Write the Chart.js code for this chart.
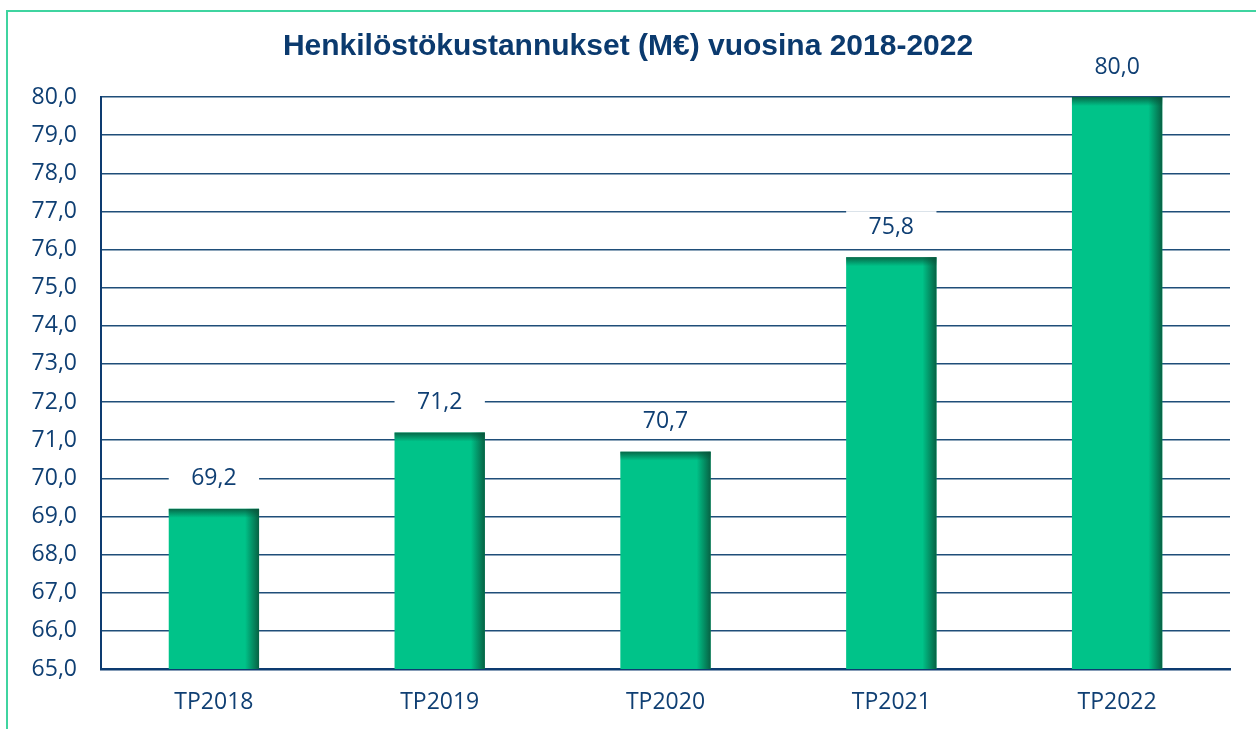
<!DOCTYPE html>
<html>
<head>
<meta charset="utf-8">
<script src="https://cdn.jsdelivr.net/npm/chart.js@4/dist/chart.umd.min.js"></script>
<style>
  html, body { margin: 0; padding: 0; background: #fff; overflow: hidden; }
  #frame { position: absolute; left: 6px; top: 10px; width: 1300px; height: 800px;
           border-left: 2px solid #3fd4a0; border-top: 2px solid #3fd4a0; }
  #costChart { position: absolute; left: 0; top: 0; }
</style>
</head>
<body>
<div id="frame"></div>
<canvas id="costChart" width="1256" height="729"></canvas>
<script>
const categories = ["TP2018", "TP2019", "TP2020", "TP2021", "TP2022"];
const values = [69.2, 71.2, 70.7, 75.8, 80.0];
const yMin = 65;
const yMax = 80;
const yStep = 1;
const titleText = "Henkilöstökustannukset (M€) vuosina 2018-2022";

const navy = "#0f3f73";
const fmt = v => v.toFixed(1).replace(".", ",");

// title drawn centred on the whole canvas
const chartTitle = {
  id: "chartTitle",
  afterDraw(chart) {
    const ctx = chart.ctx;
    ctx.save();
    ctx.font = "bold 30px 'Liberation Sans', Arial, sans-serif";
    ctx.fillStyle = "#0b3a6e";
    ctx.textAlign = "center";
    ctx.textBaseline = "middle";
    ctx.fillText(titleText, chart.width / 2, 47);
    ctx.restore();
  }
};

// dark shading on the right edge and the top of each bar
const barShade = {
  id: "barShade",
  afterDatasetDraw(chart, args) {
    const ctx = chart.ctx;
    const bottom = chart.scales.y.getPixelForValue(yMin);
    args.meta.data.forEach(el => {
      const bar = el.getProps(["x", "y", "width"], true);
      const left = bar.x - bar.width / 2;
      const right = bar.x + bar.width / 2;
      const top = bar.y;
      ctx.save();
      let g = ctx.createLinearGradient(right - 14, 0, right, 0);
      g.addColorStop(0, "rgba(8, 80, 55, 0)");
      g.addColorStop(1, "rgba(8, 80, 55, 0.85)");
      ctx.fillStyle = g;
      ctx.fillRect(right - 14, top, 14, bottom - top);
      g = ctx.createLinearGradient(0, top, 0, top + 9);
      g.addColorStop(0, "rgba(8, 80, 55, 0.8)");
      g.addColorStop(1, "rgba(8, 80, 55, 0)");
      ctx.fillStyle = g;
      ctx.fillRect(left, top, right - left, 9);
      ctx.restore();
    });
  }
};

// value labels on a white box above each bar
const valueLabels = {
  id: "valueLabels",
  afterDatasetsDraw(chart) {
    const ctx = chart.ctx;
    const meta = chart.getDatasetMeta(0);
    ctx.save();
    ctx.font = "23px 'Open Sans'";
    ctx.textAlign = "center";
    ctx.textBaseline = "middle";
    meta.data.forEach((el, i) => {
      const bar = el.getProps(["x", "y", "width"], true);
      ctx.fillStyle = "#fff";
      ctx.fillRect(bar.x - bar.width / 2, bar.y - 30 - 16, bar.width, 32);
      ctx.fillStyle = navy;
      ctx.fillText(fmt(values[i]), bar.x, bar.y - 30);
    });
    ctx.restore();
  }
};

const ctx = document.getElementById("costChart").getContext("2d");
new Chart(ctx, {
  type: "bar",
  data: {
    labels: categories,
    datasets: [{
      data: values,
      backgroundColor: "#00c389",
      borderWidth: 0,
      barPercentage: 0.4,
      categoryPercentage: 1
    }]
  },
  options: {
    responsive: false,
    animation: false,
    layout: { padding: { left: 0, right: 26, top: 97, bottom: 0 } },
    plugins: {
      legend: { display: false },
      tooltip: { enabled: false },
      title: { display: false }
    },
    scales: {
      y: {
        min: yMin,
        max: yMax,
        afterFit(scale) { scale.width = 101; },
        ticks: {
          stepSize: yStep,
          padding: 24,
          color: navy,
          font: { family: "'Open Sans'", size: 23 },
          callback: v => fmt(v)
        },
        grid: { color: "#1f4e79", lineWidth: 1.5, drawTicks: false },
        border: { color: "#0d3b70", width: 2 }
      },
      x: {
        afterFit(scale) { scale.height = 60; },
        ticks: {
          padding: 20,
          color: navy,
          font: { family: "'Open Sans'", size: 23 }
        },
        grid: { display: false, drawTicks: false },
        border: { color: "#0d3b70", width: 2.5 }
      }
    }
  },
  plugins: [barShade, valueLabels, chartTitle]
});
</script>
</body>
</html>
